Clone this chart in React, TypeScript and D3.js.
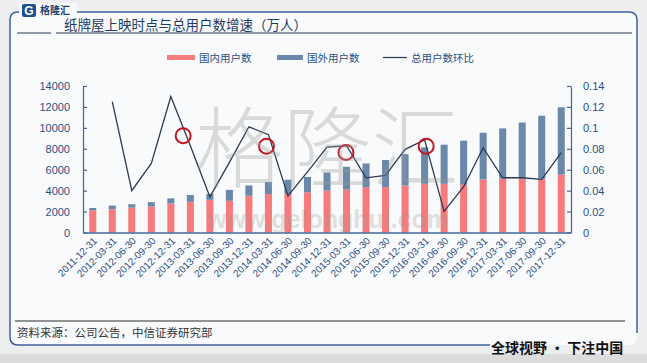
import React, { useRef, useEffect } from 'react'
import * as d3 from 'd3'

const dates = [
  '2011-12-31', '2012-03-31', '2012-06-30', '2012-09-30', '2012-12-31',
  '2013-03-31', '2013-06-30', '2013-09-30', '2013-12-31', '2014-03-31',
  '2014-06-30', '2014-09-30', '2014-12-31', '2015-03-31', '2015-06-30',
  '2015-09-30', '2015-12-31', '2016-03-31', '2016-06-30', '2016-09-30',
  '2016-12-31', '2017-03-31', '2017-06-30', '2017-09-30', '2017-12-31',
]

const domestic = [
  2120, 2210, 2380, 2480, 2770, 2930, 3120, 3030, 3510, 3680, 3680, 3840, 4000,
  4100, 4330, 4330, 4490, 4650, 4650, 4560, 5070, 5140, 5140, 5140, 5530,
]
const international = [
  220, 360, 320, 420, 490, 650, 560, 1040, 980, 1140, 1360, 1470, 1730,
  2180, 2270, 2600, 2990, 3490, 3740, 4220, 4460, 4810, 5370, 6020, 6440,
]
// 总用户数环比 (first quarter has no value)
const qoqGrowth: (number | null)[] = [
  null, 0.125, 0.04, 0.066, 0.13, 0.083, 0.034, 0.067, 0.101, 0.0935,
  0.035, 0.058, 0.0815, 0.083, 0.0523, 0.0545, 0.0795, 0.0885, 0.0202, 0.0437,
  0.081, 0.0523, 0.0523, 0.0507, 0.0763,
]

// 纸牌屋上映时点 markers: nearest quarter, offset in steps, growth level
const releases = [
  { date: '2013-03-31', offset: -0.37, value: 0.0925 },
  { date: '2014-03-31', offset: -0.1, value: 0.0825 },
  { date: '2015-03-31', offset: -0.03, value: 0.0765 },
  { date: '2016-03-31', offset: 0.08, value: 0.0825 },
]

const leftTicks = [0, 2000, 4000, 6000, 8000, 10000, 12000, 14000]
const rightTicks = [0, 0.02, 0.04, 0.06, 0.08, 0.1, 0.12, 0.14]

const RED = '#f77a7c'
const BLUE = '#6a88aa'
const LINE = '#2b3a55'
const AXIS = '#3f679c'
const TEXT = '#2c4f82'
const CJK = '"Noto Sans CJK SC", "Noto Sans", sans-serif'

export default function App() {
  const svgRef = useRef<SVGSVGElement>(null)

  useEffect(() => {
    if (!svgRef.current) return
    const svg = d3.select(svgRef.current)
    svg.selectAll('*').remove()

    const W = 647
    const H = 363
    const left = 83
    const right = 571
    const top = 86
    const bottom = 232.5

    // background
    svg.append('rect').attr('width', W).attr('height', H).attr('fill', '#eceef0')
    svg.append('rect').attr('x', 0).attr('y', 354).attr('width', W).attr('height', 9).attr('fill', '#dcdcdc')
    svg.append('rect').attr('x', 10).attr('y', 12).attr('width', 627).attr('height', 333)
      .attr('rx', 8).attr('fill', '#f9fafb')

    // frame
    svg.append('path')
      .attr('d', 'M490,345 L18,345 Q10,345 10,337 L10,20 Q10,12 18,12 L629,12 Q637,12 637,20 L637,333')
      .attr('fill', 'none').attr('stroke', '#3d619a').attr('stroke-width', 1.5)

    // logo area
    svg.append('rect').attr('x', 19).attr('y', 3).attr('width', 58).attr('height', 14).attr('fill', '#f9fafb')
    svg.append('rect').attr('x', 22).attr('y', 4).attr('width', 14).attr('height', 13).attr('rx', 2).attr('fill', '#1e4f8f')
    svg.append('text').attr('x', 29).attr('y', 15).attr('text-anchor', 'middle')
      .attr('font-family', 'Arial, sans-serif').attr('font-weight', 'bold').attr('font-size', 12)
      .attr('fill', '#fff').text('G')
    svg.append('text').attr('x', 40).attr('y', 14).attr('font-family', CJK).attr('font-weight', 'bold')
      .attr('font-size', 10).attr('fill', '#1e3f6f').text('格隆汇')

    // title
    svg.append('line').attr('x1', 17).attr('x2', 51).attr('y1', 33).attr('y2', 33).attr('stroke', '#2b3a55').attr('stroke-width', 1)
    svg.append('line').attr('x1', 56).attr('x2', 632).attr('y1', 33).attr('y2', 33).attr('stroke', '#2b3a55').attr('stroke-width', 1)
    svg.append('text').attr('x', 64).attr('y', 30).attr('font-family', CJK)
      .attr('font-size', 13.5).attr('fill', '#1f3a66').text('纸牌屋上映时点与总用户数增速（万人）')

    // legend
    const lg = svg.append('g').attr('font-family', CJK).attr('font-size', 10.5).attr('fill', TEXT)
    lg.append('rect').attr('x', 167).attr('y', 55).attr('width', 28).attr('height', 5).attr('fill', RED)
    lg.append('text').attr('x', 199).attr('y', 61.5).text('国内用户数')
    lg.append('rect').attr('x', 277).attr('y', 55).attr('width', 26).attr('height', 5).attr('fill', BLUE)
    lg.append('text').attr('x', 307).attr('y', 61.5).text('国外用户数')
    lg.append('line').attr('x1', 383).attr('x2', 407).attr('y1', 57.5).attr('y2', 57.5).attr('stroke', LINE).attr('stroke-width', 1.2)
    lg.append('text').attr('x', 411).attr('y', 61.5).text('总用户数环比')

    // scales
    const x = d3.scaleBand<string>().domain(dates).range([left, right]).paddingInner(0.64).paddingOuter(0.32)
    const y = d3.scaleLinear().domain([0, 14000]).range([bottom, top])
    const y2 = d3.scaleLinear().domain([0, 0.14]).range([bottom, top])
    const cx = (d: string) => x(d)! + x.bandwidth() / 2

    // bars
    const bars = svg.append('g')
    bars.selectAll('rect.dom').data(dates).join('rect')
      .attr('x', d => x(d)!).attr('width', x.bandwidth())
      .attr('y', (_, i) => y(domestic[i])).attr('height', (_, i) => y(0) - y(domestic[i]))
      .attr('fill', RED)
    bars.selectAll('rect.intl').data(dates).join('rect')
      .attr('x', d => x(d)!).attr('width', x.bandwidth())
      .attr('y', (_, i) => y(domestic[i] + international[i]))
      .attr('height', (_, i) => y(domestic[i]) - y(domestic[i] + international[i]))
      .attr('fill', BLUE)

    // line
    const pts = dates.map((d, i) => ({ d, v: qoqGrowth[i] })).filter(p => p.v !== null) as { d: string; v: number }[]
    svg.append('path').datum(pts)
      .attr('d', d3.line<{ d: string; v: number }>().x(p => cx(p.d)).y(p => y2(p.v)))
      .attr('fill', 'none').attr('stroke', LINE).attr('stroke-width', 1.3)

    // axes
    const yAxis = svg.append('g').attr('transform', `translate(${left},0)`)
      .call(d3.axisLeft(y).tickValues(leftTicks).tickSize(-4).tickPadding(13).tickSizeOuter(0).tickFormat(d3.format('d')))
    yAxis.selectAll('text').attr('fill', TEXT).attr('font-size', 11).attr('font-family', 'Arial, sans-serif')
    yAxis.selectAll('line,path').attr('stroke', AXIS).attr('stroke-width', 1.2)

    const y2Axis = svg.append('g').attr('transform', `translate(${right},0)`)
      .call(d3.axisRight(y2).tickValues(rightTicks).tickSize(-4).tickPadding(12).tickSizeOuter(0).tickFormat(d3.format('~g')))
    y2Axis.selectAll('text').attr('fill', TEXT).attr('font-size', 11).attr('font-family', 'Arial, sans-serif')
    y2Axis.selectAll('line,path').attr('stroke', AXIS).attr('stroke-width', 1.2)

    const xAxis = svg.append('g').attr('transform', `translate(0,${bottom})`)
      .call(d3.axisBottom(x).tickSize(0).tickSizeOuter(0).tickPadding(0))
    xAxis.select('path').attr('stroke', AXIS).attr('stroke-width', 1.5)
    xAxis.selectAll('text')
      .attr('fill', TEXT).attr('font-size', 10).attr('font-family', 'Arial, sans-serif')
      .attr('text-anchor', 'end').attr('dy', 0).attr('y', 0)
      .attr('transform', 'translate(5,9) rotate(-45)')

    // release markers
    const step = x.step()
    svg.append('g').selectAll('circle').data(releases).join('circle')
      .attr('cx', r => cx(r.date) + r.offset * step).attr('cy', r => y2(r.value))
      .attr('r', 7.5).attr('fill', 'none').attr('stroke', '#c3151f').attr('stroke-width', 2)

    // watermark
    svg.append('text').attr('x', 327).attr('y', 180).attr('text-anchor', 'middle')
      .attr('font-family', CJK).attr('font-weight', 300).attr('font-size', 88)
      .attr('fill', '#9a9a9a').attr('fill-opacity', 0.35).text('格隆汇')
    svg.append('text').attr('x', 328).attr('y', 228).attr('text-anchor', 'middle')
      .attr('font-family', 'Arial, sans-serif').attr('font-weight', 'bold').attr('font-size', 25)
      .attr('fill', '#9a9a9a').attr('fill-opacity', 0.3).text('www.gelonghui.com')

    // footer
    svg.append('line').attr('x1', 15).attr('x2', 625).attr('y1', 321).attr('y2', 321).attr('stroke', '#2b2b2b').attr('stroke-width', 1)
    svg.append('text').attr('x', 17).attr('y', 337).attr('font-family', CJK).attr('font-size', 11.5)
      .attr('fill', '#333').text('资料来源：公司公告，中信证券研究部')
    svg.append('text').attr('x', 491).attr('y', 353).attr('font-family', CJK).attr('font-weight', 'bold')
      .attr('font-size', 14).attr('fill', '#111').text('全球视野 · 下注中国')
  }, [])

  return (
    <svg ref={svgRef} width={647} height={363}
      style={{ position: 'absolute', left: 0, top: 0, display: 'block' }} />
  )
}
